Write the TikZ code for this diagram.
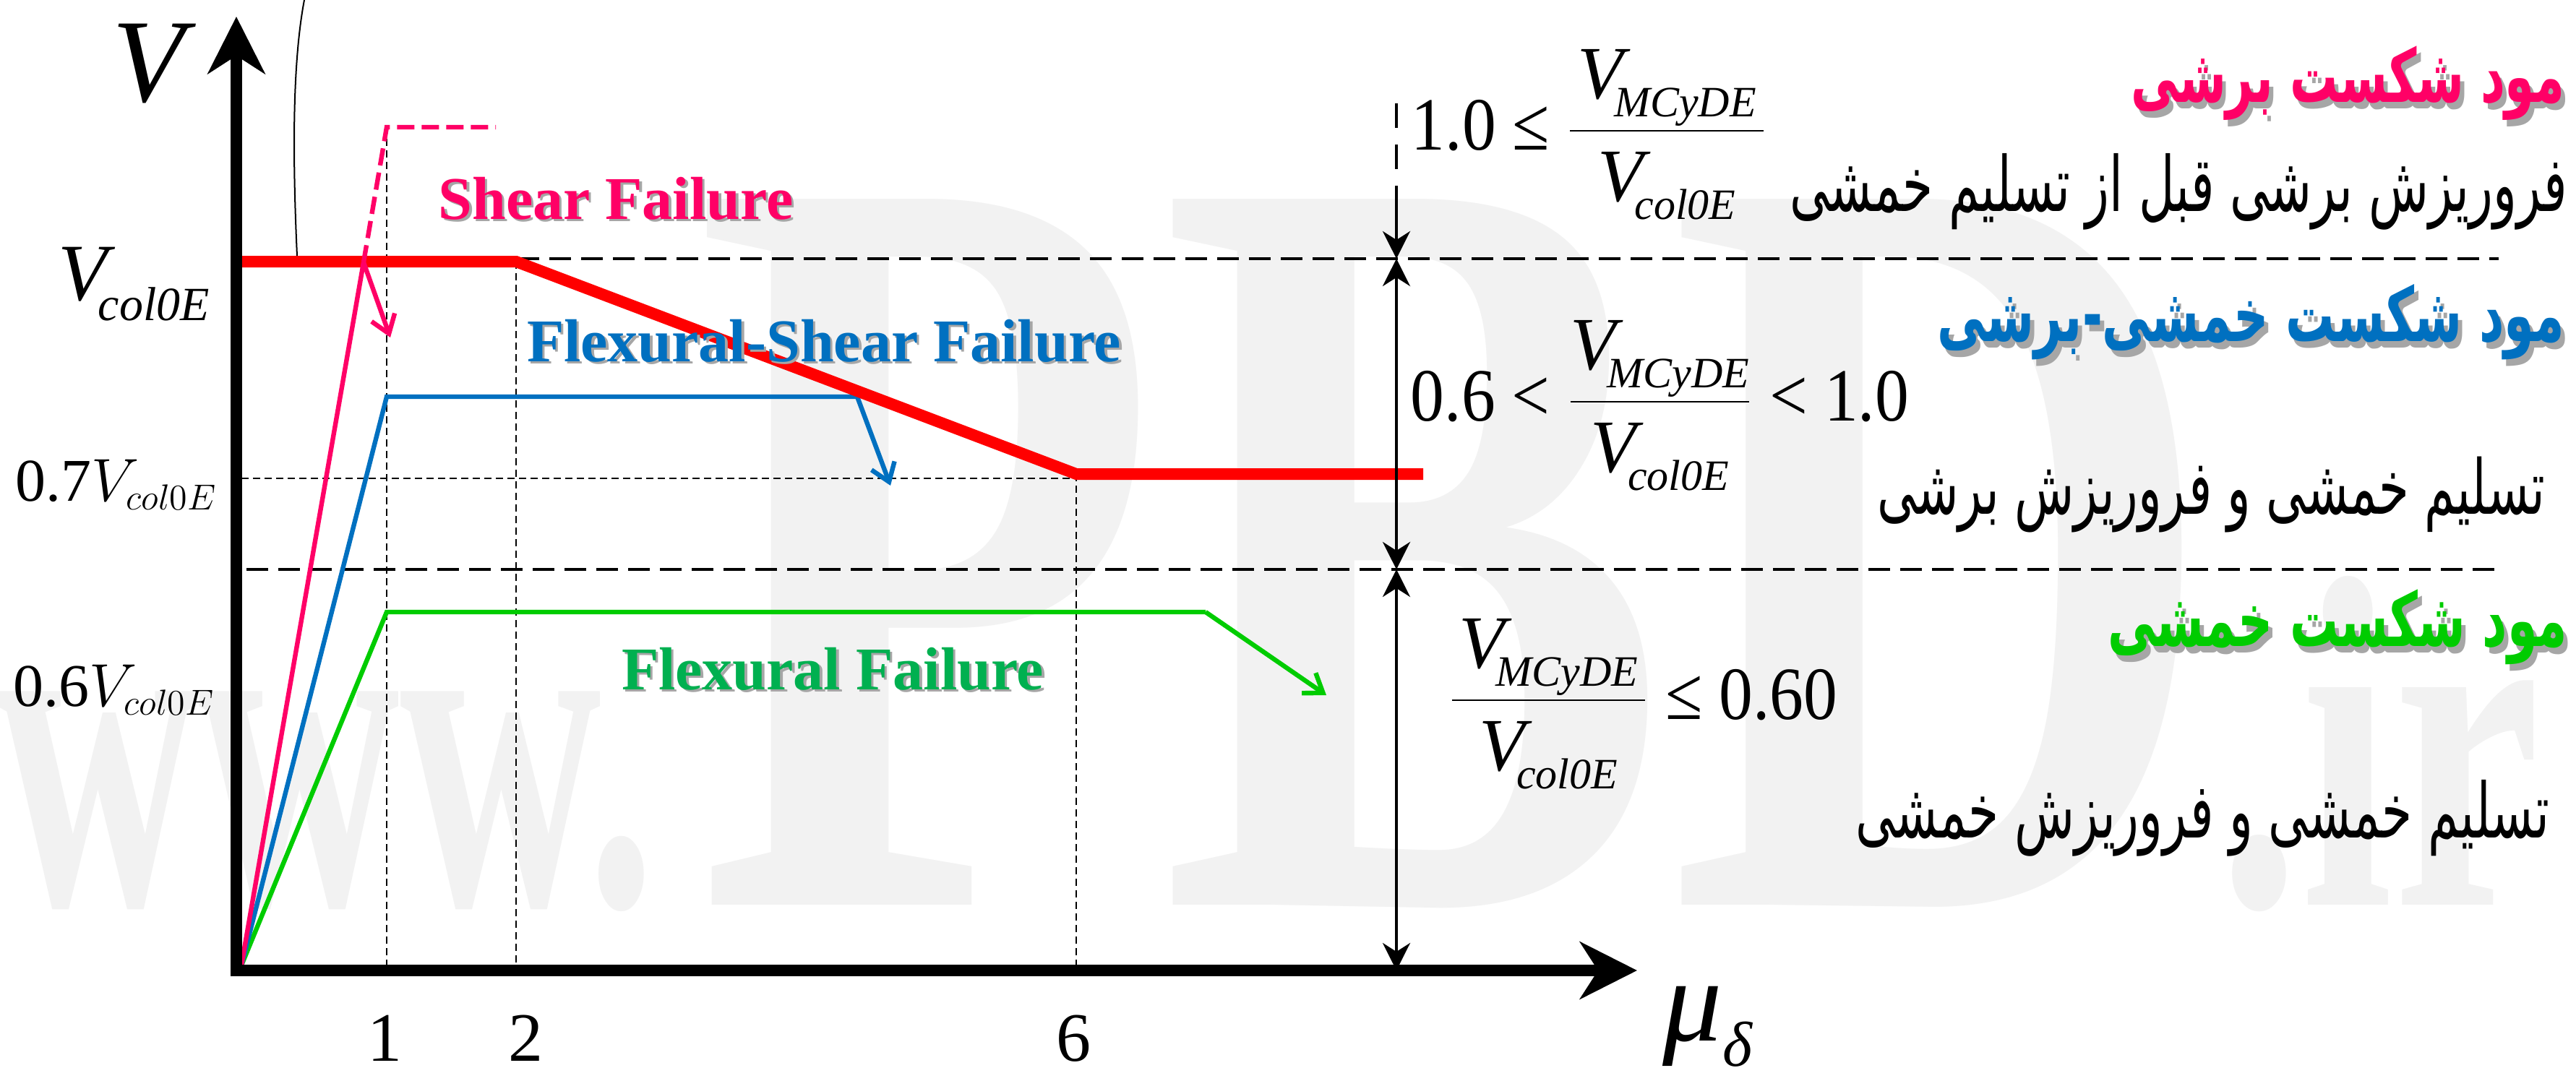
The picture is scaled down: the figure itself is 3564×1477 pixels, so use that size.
\RequirePackage{fix-cm}
\documentclass[tikz,border=0pt]{standalone}
\usepackage{graphicx}
\usepackage{fontspec}
\setmainfont{Liberation Serif}
\newfontfamily\farsi[Script=Arabic]{DejaVu Sans}
\TeXXeTstate=1
\usetikzlibrary{arrows.meta}
\definecolor{shearpink}{HTML}{FF0066}
\definecolor{capred}{HTML}{FF0000}
\definecolor{fsblue}{HTML}{0070C0}
\definecolor{flexgreen}{HTML}{00CC00}
\definecolor{flextext}{HTML}{00B050}
\definecolor{wmgray}{HTML}{F2F2F2}
\tikzset{
  axis/.style={line width=4pt, -{Stealth[length=19.75pt,width=19.75pt,inset=6.25pt]}},
  capline/.style={capred, line width=4pt},
  resp/.style={line width=1.6pt},
  failarrow/.style={line width=1.6pt, -{Straight Barb[length=6pt,width=8.5pt]}},
  guide/.style={line width=0.5pt, dash pattern=on 2.5pt off 1.5pt},
  level/.style={line width=1pt, dash pattern=on 7.5pt off 3.5pt},
  dimline/.style={line width=1pt},
  dimtip/.tip={Stealth[length=9.5pt,width=9.5pt,inset=3pt]},
  lbl/.style={inner sep=0pt},
  ratio/.style={lbl, anchor=base west, font=\fs{26}},
}
\newcommand{\fs}[1]{\fontsize{#1pt}{#1pt}\selectfont}
\newcommand{\shadowtext}[2]{\makebox[0pt][l]{\kern0.9pt\raisebox{-0.9pt}{\textcolor{black!35}{#2}}}\textcolor{#1}{#2}}
\newcommand{\vmcy}{\hbox{\itshape V\kern-0.12em\raisebox{-6.25pt}{\fs{15}MCyDE}}}
\newcommand{\vcol}{\hbox{\itshape V\kern-0.12em\raisebox{-6.25pt}{\fs{15}col0E}}}
\newcommand{\num}[1]{\mbox{\scalebox{0.9}[1]{#1}}}
\newcommand{\farsiline}[2]{\scalebox{1}[1.55]{\resizebox{#1}{!}{#2}}}

\begin{document}
\thickmuskip=4mu
\begin{tikzpicture}[x=0.25pt, y=-0.25pt]
  \useasboundingbox (0,0) rectangle (3564,1477);

  % watermark
  \node[lbl, anchor=base west, text=wmgray, font=\fs{161}\bfseries] (wmA) at (-5,1252) {\scalebox{0.6}[1]{www.}};
  \node[lbl, anchor=base west, text=wmgray, font=\fs{373}\bfseries] (wmB) at (960,1252) {\scalebox{0.707}[1]{PBD}};
  \node[lbl, anchor=base west, text=wmgray, font=\fs{164}\bfseries] (wmC) at (3068,1252) {\scalebox{0.7}[1]{.ir}};

  \coordinate (O) at (334,1336);
  \coordinate (orig) at (327,1343);
  \coordinate (ytip) at (327,23);
  \coordinate (xtip) at (2265,1343);

  % capacity curve
  \coordinate (capA) at (334,362);
  \coordinate (capB) at (714,362);
  \coordinate (capC) at (1489,656);
  \coordinate (capD) at (1969,656);

  % response curves
  \coordinate (shx) at (503,363);
  \coordinate (shtop) at (535,176);
  \coordinate (shend) at (686,176);
  \coordinate (shtip) at (540,467);
  \coordinate (fsy) at (535,549);
  \coordinate (fsend) at (1186,549);
  \coordinate (fstip) at (1232,672);
  \coordinate (fly) at (535,847);
  \coordinate (flend) at (1668,847);
  \coordinate (fltip) at (1835,962);

  \coordinate (g1) at (535,1336);
  \coordinate (g2) at (714,1336);
  \coordinate (g6) at (1489,1336);
  \coordinate (h07a) at (334,662);
  \coordinate (h07b) at (1489,662);

  \coordinate (lvlA1) at (716,358);
  \coordinate (lvlA2) at (3457,358);
  \coordinate (lvlB1) at (341,788);
  \coordinate (lvlB2) at (3455,788);

  \coordinate (dtop) at (1932,143);
  \coordinate (dbreak) at (1932,234);
  \coordinate (dstart) at (1932,257);
  \coordinate (d1) at (1932,358);
  \coordinate (d2) at (1932,788);
  \coordinate (d3) at (1932,1343);

  \coordinate (lead0) at (421,0);
  \coordinate (lead1) at (411,354);

  \draw[guide] (shtop) -- (g1);
  \draw[guide] (capB) -- (g2);
  \draw[guide] (capC) -- (g6);
  \draw[guide] (h07a) -- (h07b);
  \draw[level] (lvlA1) -- (lvlA2);
  \draw[level] (lvlB1) -- (lvlB2);
  \draw[line width=0.5pt] (lead0) .. controls (404,90) and (405,220) .. (lead1);

  \draw[resp, flexgreen] (O) -- (fly) -- (flend);
  \draw[failarrow, flexgreen] (flend) -- (fltip);
  \draw[resp, fsblue] (O) -- (fsy) -- (fsend);
  \draw[failarrow, fsblue] (fsend) -- (fstip);
  \draw[capline] (capA) -- (capB) -- (capC) -- (capD);
  \draw[resp, shearpink] (O) -- (shx);
  \draw[resp, shearpink, dash pattern=on 6pt off 2.5pt] (shx) -- (shtop) -- (shend);
  \draw[failarrow, shearpink] (shx) -- (shtip);

  \draw[axis] ([yshift=-2pt]orig) -- (ytip);
  \draw[axis] (orig) -- (xtip);

  \draw[dimline, dash pattern=on 8.5pt off 5.75pt] (dtop) -- (dbreak);
  \draw[dimline, -dimtip] (dstart) -- (d1);
  \draw[dimline, dimtip-dimtip] (d1) -- (d2);
  \draw[dimline, dimtip-dimtip] (d2) -- (d3);

  % axis labels
  \node[lbl, anchor=base, font=\fs{41}\itshape] (vlab) at (206,140) {V};
  \node[lbl, anchor=base west] (vcap) at (80,415) {\fs{28}\itshape V\kern-0.12em\raisebox{-7pt}{\fs{16.5}col0E}};
  \node[lbl, anchor=base, font=\fs{21}] (v07) at (161,693) {$\mbox{0.7}V_{\mbox{\fs{12.5}$col0E$}}$};
  \node[lbl, anchor=base, font=\fs{21}] (v06) at (158,977) {$\mbox{0.6}V_{\mbox{\fs{12.5}$col0E$}}$};
  \node[lbl, anchor=base, font=\fs{24}] (t1) at (532,1468) {1};
  \node[lbl, anchor=base, font=\fs{24}] (t2) at (727,1468) {2};
  \node[lbl, anchor=base, font=\fs{24}] (t6) at (1485,1468) {6};
  \node[lbl, anchor=base west] (mulab) at (2300,1440) {\fs{41}\itshape μ\raisebox{-8.75pt}{\fs{22}δ}};

  % failure labels
  \node[lbl, anchor=base, font=\fs{21}\bfseries] (shearlab) at (852,303) {\shadowtext{shearpink}{Shear Failure}};
  \node[lbl, anchor=base, font=\fs{21}\bfseries] (fslab) at (1140,500) {\shadowtext{fsblue}{Flexural-Shear Failure}};
  \node[lbl, anchor=base, font=\fs{21}\bfseries] (fllab) at (1152,954) {\shadowtext{flextext}{Flexural Failure}};

  % limits
  \node[ratio] (ratioA) at (1952,207) {$\num{1.0}\mathrel{\num{≤}}\displaystyle\frac{\kern2.5pt\vmcy\kern2.5pt}{\vcol}$};
  \node[ratio] (ratioB) at (1951,582) {$\num{0.6}\mathrel{\num{<}}\displaystyle\frac{\vmcy}{\vcol}\mathrel{\num{<}}\num{1.0}$};
  \node[ratio] (ratioC) at (2003,995) {$\displaystyle\frac{\kern2.5pt\vmcy\kern2.5pt}{\vcol}\mathrel{\num{≤}}\num{0.60}$};

  % modes
  \node[lbl, anchor=east] (modeA) at (3549,120) {\farsiline{150pt}{\farsi\bfseries\shadowtext{shearpink}{\beginR مود شکست برشی\endR}}};
  \node[lbl, anchor=east] (descA) at (3553,265) {\farsiline{269pt}{\farsi\beginR فروریزش برشی قبل از تسلیم خمشی\endR}};
  \node[lbl, anchor=east] (modeB) at (3549,450) {\farsiline{217pt}{\farsi\bfseries\shadowtext{fsblue}{\beginR مود شکست خمشی-برشی\endR}}};
  \node[lbl, anchor=east] (descB) at (3522,685) {\farsiline{231pt}{\farsi\beginR تسلیم خمشی و فروریزش برشی\endR}};
  \node[lbl, anchor=east] (modeC) at (3553,872) {\farsiline{159pt}{\farsi\bfseries\shadowtext{flexgreen}{\beginR مود شکست خمشی\endR}}};
  \node[lbl, anchor=east] (descC) at (3528,1132) {\farsiline{240pt}{\farsi\beginR تسلیم خمشی و فروریزش خمشی\endR}};
\end{tikzpicture}
\end{document}
